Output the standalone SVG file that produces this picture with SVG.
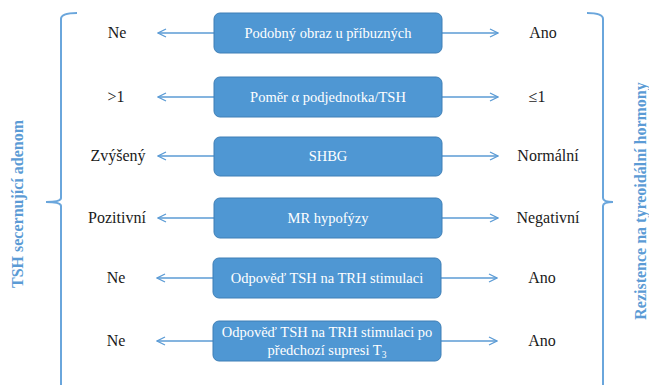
<svg xmlns="http://www.w3.org/2000/svg" width="649" height="385" viewBox="0 0 649 385">
<defs>
<marker id="ah" viewBox="0 0 10 10" refX="9" refY="5" markerWidth="10" markerHeight="10" markerUnits="userSpaceOnUse" orient="auto-start-reverse">
<path d="M1,1 L9,5 L1,9" fill="none" stroke="#5b9bd5" stroke-width="1.3"/>
</marker>
</defs>
<style>
.box{fill:#4f97d3;stroke:#3f7fb6;stroke-width:1}
.bt{font-family:'Liberation Serif','Times New Roman',serif;font-size:14.5px;fill:#ffffff;text-anchor:middle}
.lbl{font-family:'Liberation Serif','Times New Roman',serif;font-size:16px;fill:#1a1a1a;text-anchor:middle}
.ar{stroke:#5b9bd5;stroke-width:1.5;fill:none}
.br{stroke:#6aa6dc;stroke-width:2;fill:none}
.vt{font-family:'Liberation Serif','Times New Roman',serif;font-size:16px;font-weight:bold;fill:#5b9bd5;text-anchor:middle}
</style>
<rect width="649" height="385" fill="#ffffff"/>
<g id="connectors">
<line class="ar" x1="214" y1="33" x2="158" y2="33" marker-end="url(#ah)"/>
<line class="ar" x1="442" y1="33" x2="498" y2="33" marker-end="url(#ah)"/>
<line class="ar" x1="214" y1="97" x2="158" y2="97" marker-end="url(#ah)"/>
<line class="ar" x1="442" y1="97" x2="498" y2="97" marker-end="url(#ah)"/>
<line class="ar" x1="214" y1="156" x2="158" y2="156" marker-end="url(#ah)"/>
<line class="ar" x1="442" y1="156" x2="498" y2="156" marker-end="url(#ah)"/>
<line class="ar" x1="214" y1="218" x2="158" y2="218" marker-end="url(#ah)"/>
<line class="ar" x1="442" y1="218" x2="498" y2="218" marker-end="url(#ah)"/>
<line class="ar" x1="213" y1="278" x2="157" y2="278" marker-end="url(#ah)"/>
<line class="ar" x1="441" y1="278" x2="497" y2="278" marker-end="url(#ah)"/>
<line class="ar" x1="213" y1="341" x2="157" y2="341" marker-end="url(#ah)"/>
<line class="ar" x1="441" y1="341" x2="497" y2="341" marker-end="url(#ah)"/>
</g>
<g id="bracket-left">
<path class="br" d="M77,13 Q61,13 61,19 L61,198 Q61,202 46,202 Q61,202 61,206 L61,390"/>
</g>
<g id="bracket-right">
<path class="br" d="M587,13 Q603,13 603,19 L603,198 Q603,202 613,202 Q603,202 603,206 L603,390"/>
</g>
<g id="label-left"><text class="vt" transform="translate(23,204) rotate(-90)">TSH secernující adenom</text></g>
<g id="label-right"><text class="vt" transform="translate(646,201) rotate(-90)">Rezistence na tyreoidální hormony</text></g>
<g id="n1"><rect class="box" x="214" y="13" width="228" height="40" rx="6"/><text class="bt" x="328" y="38">Podobný obraz u příbuzných</text></g>
<g id="n2"><rect class="box" x="214" y="77" width="228" height="40" rx="6"/><text class="bt" x="328" y="102">Poměr α podjednotka/TSH</text></g>
<g id="n3"><rect class="box" x="214" y="137" width="228" height="39" rx="6"/><text class="bt" x="328" y="161">SHBG</text></g>
<g id="n4"><rect class="box" x="214" y="198" width="228" height="40" rx="6"/><text class="bt" x="328" y="223">MR hypofýzy</text></g>
<g id="n5"><rect class="box" x="213" y="258" width="228" height="40" rx="6"/><text class="bt" x="327" y="283">Odpověď TSH na TRH stimulaci</text></g>
<g id="n6"><rect class="box" x="213" y="321" width="228" height="40" rx="6"/><text class="bt" x="327" y="337">Odpověď TSH na TRH stimulaci po</text><text class="bt" x="327" y="355">předchozí supresi T<tspan font-size="9.5" dy="3">3</tspan></text></g>
<g id="left-values">
<text class="lbl" x="117" y="38">Ne</text>
<text class="lbl" x="116" y="102">&gt;1</text>
<text class="lbl" x="118" y="161">Zvýšený</text>
<text class="lbl" x="117" y="223">Pozitivní</text>
<text class="lbl" x="116" y="283">Ne</text>
<text class="lbl" x="116" y="346">Ne</text>
</g>
<g id="right-values">
<text class="lbl" x="543" y="38">Ano</text>
<text class="lbl" x="537" y="102">≤1</text>
<text class="lbl" x="548" y="161">Normální</text>
<text class="lbl" x="548" y="223">Negativní</text>
<text class="lbl" x="542" y="283">Ano</text>
<text class="lbl" x="542" y="346">Ano</text>
</g>
</svg>
